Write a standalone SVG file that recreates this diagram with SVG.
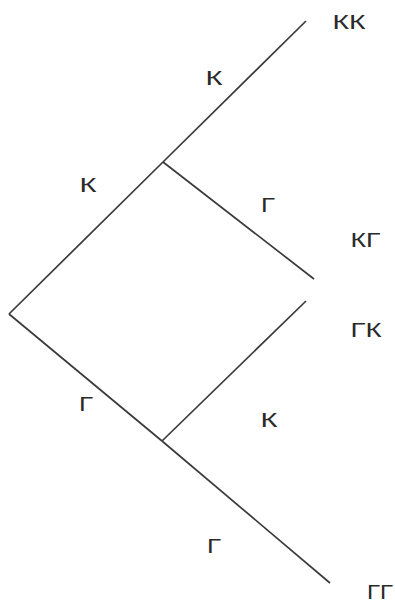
<svg xmlns="http://www.w3.org/2000/svg" width="395" height="605" viewBox="0 0 395 605">
<style>
.edge{stroke:#3a3a3a;stroke-width:1.7;fill:none;stroke-linecap:butt}
.lbl{font-family:"Liberation Sans",Arial,sans-serif;font-size:19.5px;fill:#2a2a2a}
</style>
<rect width="395" height="605" fill="#ffffff"/>
<g id="connectors">
<line class="edge" x1="9" y1="314" x2="163" y2="162"/>
<line class="edge" x1="163" y1="162" x2="306" y2="21"/>
<line class="edge" x1="163" y1="162" x2="314" y2="279"/>
<line class="edge" x1="9" y1="314" x2="162" y2="441"/>
<line class="edge" x1="162" y1="441" x2="330" y2="583"/>
<line class="edge" x1="162" y1="441" x2="306" y2="301"/>
</g>
<g id="node-kk"><text class="lbl" x="332.5" y="28.5" textLength="33" lengthAdjust="spacingAndGlyphs">КК</text></g>
<g id="edge-k1"><text class="lbl" x="205.5" y="84.5" textLength="17" lengthAdjust="spacingAndGlyphs">К</text></g>
<g id="edge-k0"><text class="lbl" x="79.5" y="191.5" textLength="17" lengthAdjust="spacingAndGlyphs">К</text></g>
<g id="edge-g1"><text class="lbl" x="261" y="211.5" textLength="14" lengthAdjust="spacingAndGlyphs">Г</text></g>
<g id="node-kg"><text class="lbl" x="350.5" y="246.5" textLength="30" lengthAdjust="spacingAndGlyphs">КГ</text></g>
<g id="node-gk"><text class="lbl" x="350.5" y="336.5" textLength="31" lengthAdjust="spacingAndGlyphs">ГК</text></g>
<g id="edge-g0"><text class="lbl" x="79" y="410.5" textLength="14" lengthAdjust="spacingAndGlyphs">Г</text></g>
<g id="edge-k2"><text class="lbl" x="260.5" y="426.5" textLength="17" lengthAdjust="spacingAndGlyphs">К</text></g>
<g id="edge-g2"><text class="lbl" x="207" y="552.5" textLength="14" lengthAdjust="spacingAndGlyphs">Г</text></g>
<g id="node-gg"><text class="lbl" x="367" y="599" textLength="26" lengthAdjust="spacingAndGlyphs">ГГ</text></g>
</svg>
